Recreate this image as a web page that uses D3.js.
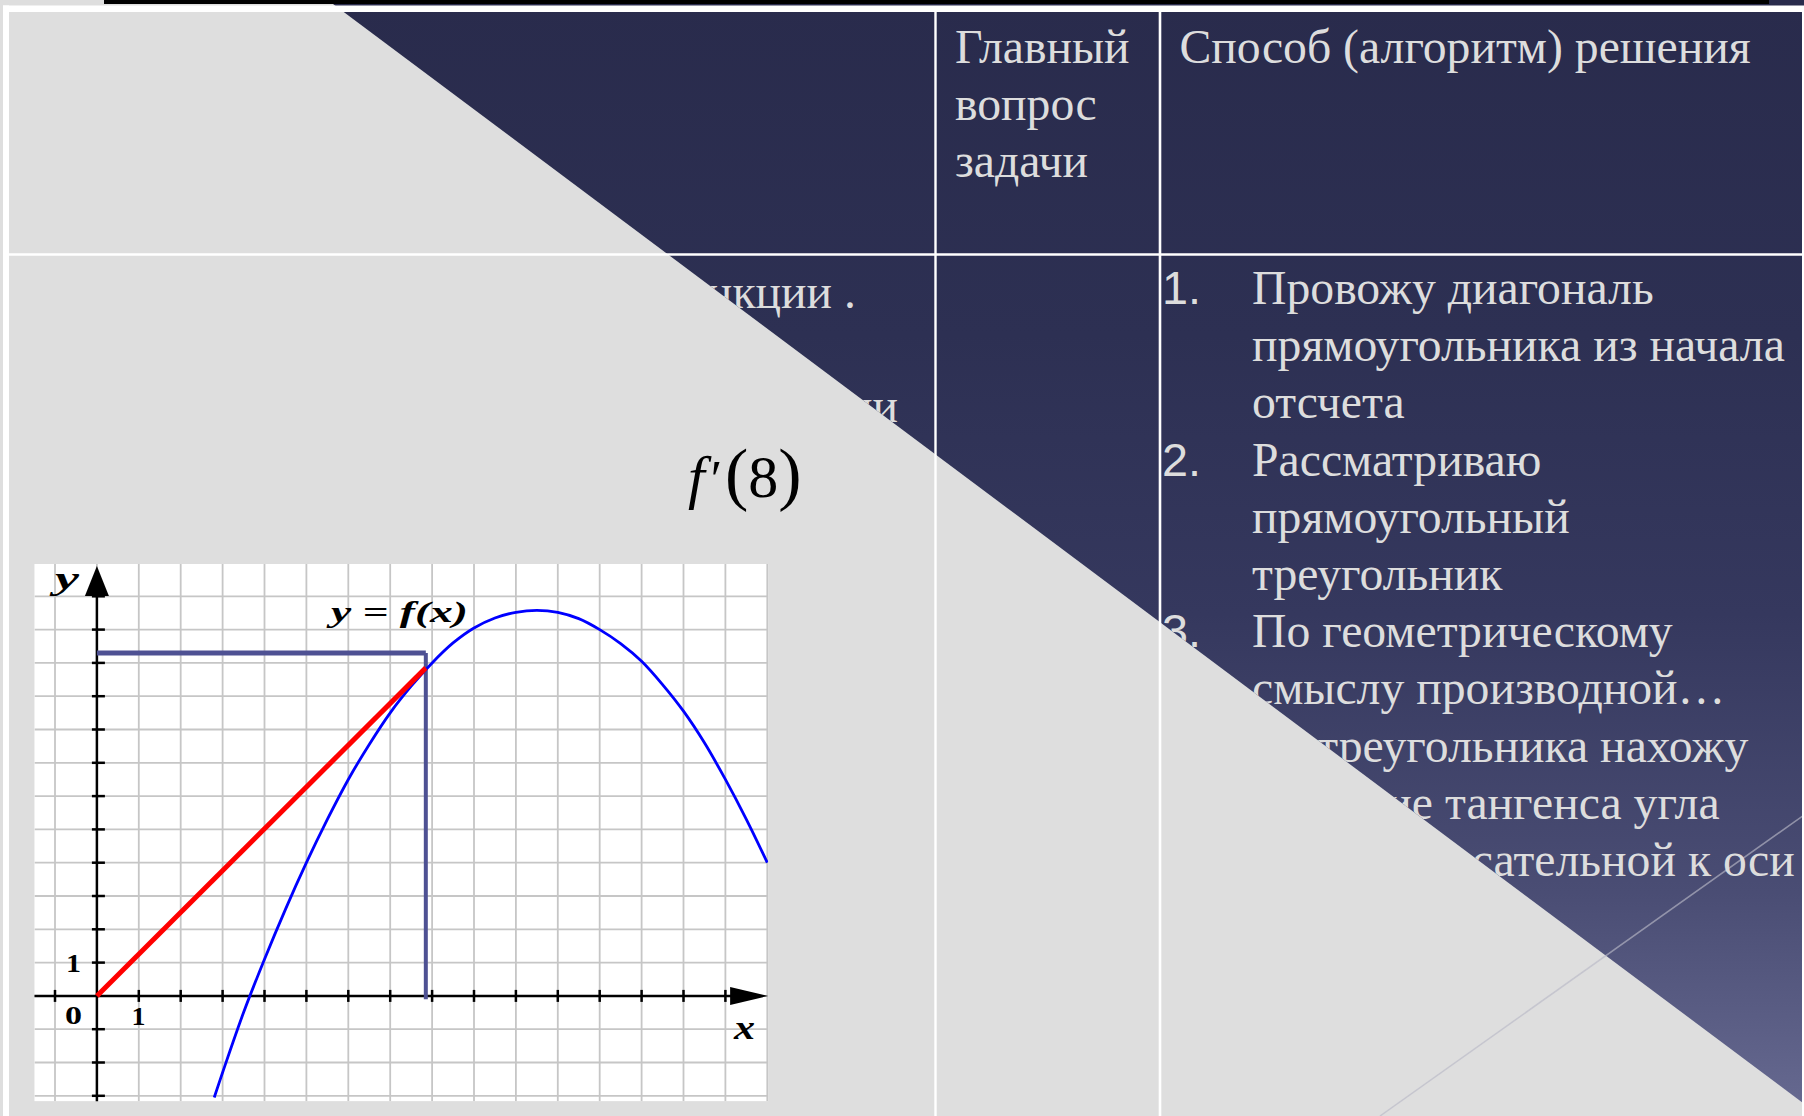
<!DOCTYPE html>
<html><head><meta charset="utf-8">
<script src="https://cdn.jsdelivr.net/npm/d3@7"></script>
<style>html,body{margin:0;padding:0;background:#dedede;overflow:hidden}</style>
</head><body><div id="chart"></div>
<script>
// ---------- data ----------
const gridXValues = [-1,0,1,2,3,4,5,6,7,8,9,10,11,12,13,14,15,16];
const gridYValues = [-3,-2,-1,0,1,2,3,4,5,6,7,8,9,10,11,12];
const xTickValues = [-1,1,2,3,4,5,6,7,8,9,10,11,12,13,14,15];
const yTickValues = [-3,-2,-1,1,2,3,4,5,6,7,8,9,10,11,12];
const curveX = [2.8,3,3.5,4,4.5,5,5.5,6,6.5,7,7.5,8,8.5,9,9.5,10,10.5,11,11.5,12,12.5,13,13.5,14,14.5,15,15.5,16];
const curveY = [-3.05,-2.3,-0.5,1.1,2.6,4.0,5.3,6.5,7.55,8.5,9.3,10.0,10.6,11.05,11.35,11.52,11.58,11.52,11.33,11.0,10.58,10.05,9.35,8.55,7.6,6.5,5.3,4.0];
const tangentStart = [0, 0];
const tangentEnd = [7.85, 9.85];
const rectCorner = [7.85, 10.3];
const curveLabel = "y = f(x)";
const axisNameX = "x", axisNameY = "y";
const originLabel = "0", unitLabel = "1";

const headerCol2 = ["Главный", "вопрос", "задачи"];
const headerCol3 = ["Способ (алгоритм) решения"];
const stepNumbers = ["1.", "2.", "3."];
const stepLines = [
  ["Провожу диагональ", "прямоугольника из начала", "отсчета"],
  ["Рассматриваю", "прямоугольный", "треугольник"],
  ["По геометрическому", "смыслу производной…", "Из треугольника нахожу", "значение тангенса угла", "наклона касательной к оси"]
];
const leftLines = [["функции .", 0], ["функции", 2]];

// ---------- page ----------
const W = 1804, H = 1116;
const svg = d3.select("#chart").append("svg").attr("width", W).attr("height", H)
  .style("display","block");
const defs = svg.append("defs");
const grad = defs.append("linearGradient").attr("id","navy")
  .attr("gradientUnits","userSpaceOnUse").attr("x1",0).attr("y1",0).attr("x2",0).attr("y2",H);
[[0,"#292b4c"],[0.3,"#2d3053"],[0.55,"#35385e"],[0.8,"#4a4d74"],[1,"#676a91"]]
  .forEach(([o,c]) => grad.append("stop").attr("offset",o).attr("stop-color",c));

// diagonal split
const slope = 0.7476, dx0 = 343.7, dy0 = 12;
const xAtY = yy => dx0 + (yy - dy0) / slope;
const navyPts = [[xAtY(0),0],[W,0],[W, dy0 + (W - dx0) * slope]];
svg.append("rect").attr("width",W).attr("height",H).attr("fill","#dedede");
svg.append("polygon").attr("points", navyPts.map(p=>p.join(",")).join(" ")).attr("fill","url(#navy)");
defs.append("clipPath").attr("id","navyClip").append("polygon")
  .attr("points", navyPts.map(p=>p.join(",")).join(" "));

// decorative thin line
svg.append("line").attr("x1",1380).attr("y1",H).attr("x2",W).attr("y2",815)
  .attr("stroke","#b8b9c6").attr("stroke-opacity",0.65).attr("stroke-width",1.5);

// black top bar
svg.append("rect").attr("x",104).attr("y",0).attr("width",1665).attr("height",4).attr("fill","#000");

// ---------- table lines ----------
const tl = svg.append("g").attr("stroke","#ffffff").attr("fill","none");
tl.append("line").attr("x1",3).attr("x2",W).attr("y1",8.7).attr("y2",8.7).attr("stroke-width",6.6);
tl.append("line").attr("x1",6).attr("x2",6).attr("y1",5.4).attr("y2",H).attr("stroke-width",6);
tl.append("line").attr("x1",3).attr("x2",W).attr("y1",254.5).attr("y2",254.5).attr("stroke-width",2.6);
tl.append("line").attr("x1",935.5).attr("x2",935.5).attr("y1",12).attr("y2",H).attr("stroke-width",2.4);
tl.append("line").attr("x1",1160).attr("x2",1160).attr("y1",12).attr("y2",H).attr("stroke-width",2.6);
tl.append("line").attr("x1",1803).attr("x2",1803).attr("y1",12).attr("y2",H).attr("stroke-width",2);

// ---------- light text ----------
const serif = "'Liberation Serif','Times New Roman',serif";
const sans = "'Liberation Sans',Arial,sans-serif";
const txt = svg.append("g").attr("clip-path","url(#navyClip)").attr("fill","#dddddd")
  .style("font-family", serif);
const probe = txt.append("text").style("font-size","100px").text("прямоугольника из начала");
const fs = 100 * 533 / probe.node().getComputedTextLength();
probe.remove();

const lh = 57.2;
headerCol2.forEach((s,i) => txt.append("text").attr("x",955).attr("y",62.7 + i*lh)
  .style("font-size", fs+"px").text(s));
headerCol3.forEach((s,i) => txt.append("text").attr("x",1179.5).attr("y",62.7 + i*lh)
  .style("font-size", fs+"px").text(s));

let row = 0;
stepLines.forEach((lines, k) => {
  txt.append("text").attr("x",1162).attr("y",304 + row*lh).style("font-family",sans)
    .style("font-size",(fs*0.98)+"px").text(stepNumbers[k]);
  lines.forEach(s => {
    txt.append("text").attr("x",1252).attr("y",304 + row*lh).style("font-size",fs+"px").text(s);
    row++;
  });
});
leftLines.forEach(([s,r]) => {
  txt.append("text").attr("x", r === 0 ? 856 : 898).attr("y", 308 + r*lh)
    .attr("text-anchor","end").style("font-size",fs+"px").text(s);
});

// ---------- f'(8) ----------
const fm = svg.append("text").attr("fill","#000").style("font-family",serif)
  .attr("x",688).attr("y",497).style("font-size","60px");
fm.append("tspan").style("font-style","italic").text("f");
fm.append("tspan").attr("dx",6).style("font-size","52px").text("′");
fm.append("tspan").attr("dx",3).style("font-size","70px").text("(");
fm.append("tspan").text("8");
fm.append("tspan").style("font-size","70px").text(")");

// ---------- graph image ----------
const x = d3.scaleLinear().domain([0,16]).range([96.9,767.3]);
const y = d3.scaleLinear().domain([0,12]).range([995.9,596.3]);
const imgX = [-1.49, 16.02], imgY = [-3.16, 12.97];
const g = svg.append("g");
defs.append("clipPath").attr("id","imgClip").append("rect")
  .attr("x",x(imgX[0])).attr("y",y(imgY[1]))
  .attr("width",x(imgX[1])-x(imgX[0])).attr("height",y(imgY[0])-y(imgY[1]));
g.append("rect").attr("x",x(imgX[0])).attr("y",y(imgY[1]))
  .attr("width",x(imgX[1])-x(imgX[0])).attr("height",y(imgY[0])-y(imgY[1])).attr("fill","#fff");

const grid = g.append("g").attr("stroke","#c6c6c6").attr("stroke-width",1.8).attr("clip-path","url(#imgClip)");
grid.selectAll(".gx").data(gridXValues).join("line")
  .attr("x1",d=>x(d)).attr("x2",d=>x(d)).attr("y1",y(imgY[1])).attr("y2",y(imgY[0]));
grid.selectAll(".gy").data(gridYValues).join("line")
  .attr("y1",d=>y(d)).attr("y2",d=>y(d)).attr("x1",x(imgX[0])).attr("x2",x(imgX[1]));

// axes
const ax = g.append("g").attr("stroke","#000").attr("stroke-width",2.5);
ax.append("line").attr("x1",x(imgX[0])).attr("x2",x(imgX[1])-36).attr("y1",y(0)).attr("y2",y(0));
ax.append("line").attr("x1",x(0)).attr("x2",x(0)).attr("y1",y(imgY[0])).attr("y2",y(imgY[1])+30);
ax.selectAll(".tx").data(xTickValues).join("line")
  .attr("x1",d=>x(d)).attr("x2",d=>x(d)).attr("y1",y(0)-6).attr("y2",y(0)+6);
ax.selectAll(".ty").data(yTickValues).join("line")
  .attr("y1",d=>y(d)).attr("y2",d=>y(d)).attr("x1",x(0)-5).attr("x2",x(0)+8);
const tipX = x(imgX[1]), tipY = y(imgY[1]) + 2;
g.append("polygon").attr("fill","#000")
  .attr("points",`${tipX},${y(0)} ${tipX-38},${y(0)-9} ${tipX-38},${y(0)+9}`);
g.append("polygon").attr("fill","#000")
  .attr("points",`${x(0)},${tipY} ${x(0)-12},${tipY+30} ${x(0)+12},${tipY+30}`);

// rectangle (blue-grey) lines
const rc = g.append("g").attr("stroke","#4e5193").attr("fill","none");
rc.append("line").attr("x1",x(0)).attr("x2",x(rectCorner[0])).attr("y1",y(rectCorner[1])).attr("y2",y(rectCorner[1])).attr("stroke-width",5);
rc.append("line").attr("x1",x(rectCorner[0])).attr("x2",x(rectCorner[0])).attr("y1",y(rectCorner[1])).attr("y2",y(-0.1)).attr("stroke-width",4);

// curve
const pts = curveX.map((v,i)=>[v, curveY[i]]);
g.append("path").attr("clip-path","url(#imgClip)")
  .attr("d", d3.line().x(d=>x(d[0])).y(d=>y(d[1])).curve(d3.curveCatmullRom)(pts))
  .attr("fill","none").attr("stroke","#0000ff").attr("stroke-width",2.8);

// tangent (red)
g.append("line").attr("x1",x(tangentStart[0])).attr("y1",y(tangentStart[1]))
  .attr("x2",x(tangentEnd[0])).attr("y2",y(tangentEnd[1]))
  .attr("stroke","#ff0000").attr("stroke-width",5);

// labels
const lab = g.append("g").attr("fill","#000").style("font-family",serif).style("font-weight","bold");
lab.append("text").attr("x",331).attr("y",621.5).style("font-style","italic").style("font-size","29px")
  .attr("textLength",137).attr("lengthAdjust","spacingAndGlyphs").text(curveLabel);
lab.append("text").attr("x",55).attr("y",589).style("font-style","italic").style("font-size","31px")
  .attr("textLength",24).attr("lengthAdjust","spacingAndGlyphs").text(axisNameY);
lab.append("text").attr("x",734).attr("y",1038.5).style("font-style","italic").style("font-size","33px")
  .attr("textLength",21).attr("lengthAdjust","spacingAndGlyphs").text(axisNameX);
lab.append("text").attr("x",65).attr("y",1023.5).style("font-size","25px")
  .attr("textLength",17).attr("lengthAdjust","spacingAndGlyphs").text(originLabel);
lab.append("text").attr("x",131.5).attr("y",1025).style("font-size","26px")
  .attr("textLength",14).attr("lengthAdjust","spacingAndGlyphs").text(unitLabel);
lab.append("text").attr("x",66).attr("y",971.7).style("font-size","26px")
  .attr("textLength",15).attr("lengthAdjust","spacingAndGlyphs").text(unitLabel);
</script>
</body></html>
